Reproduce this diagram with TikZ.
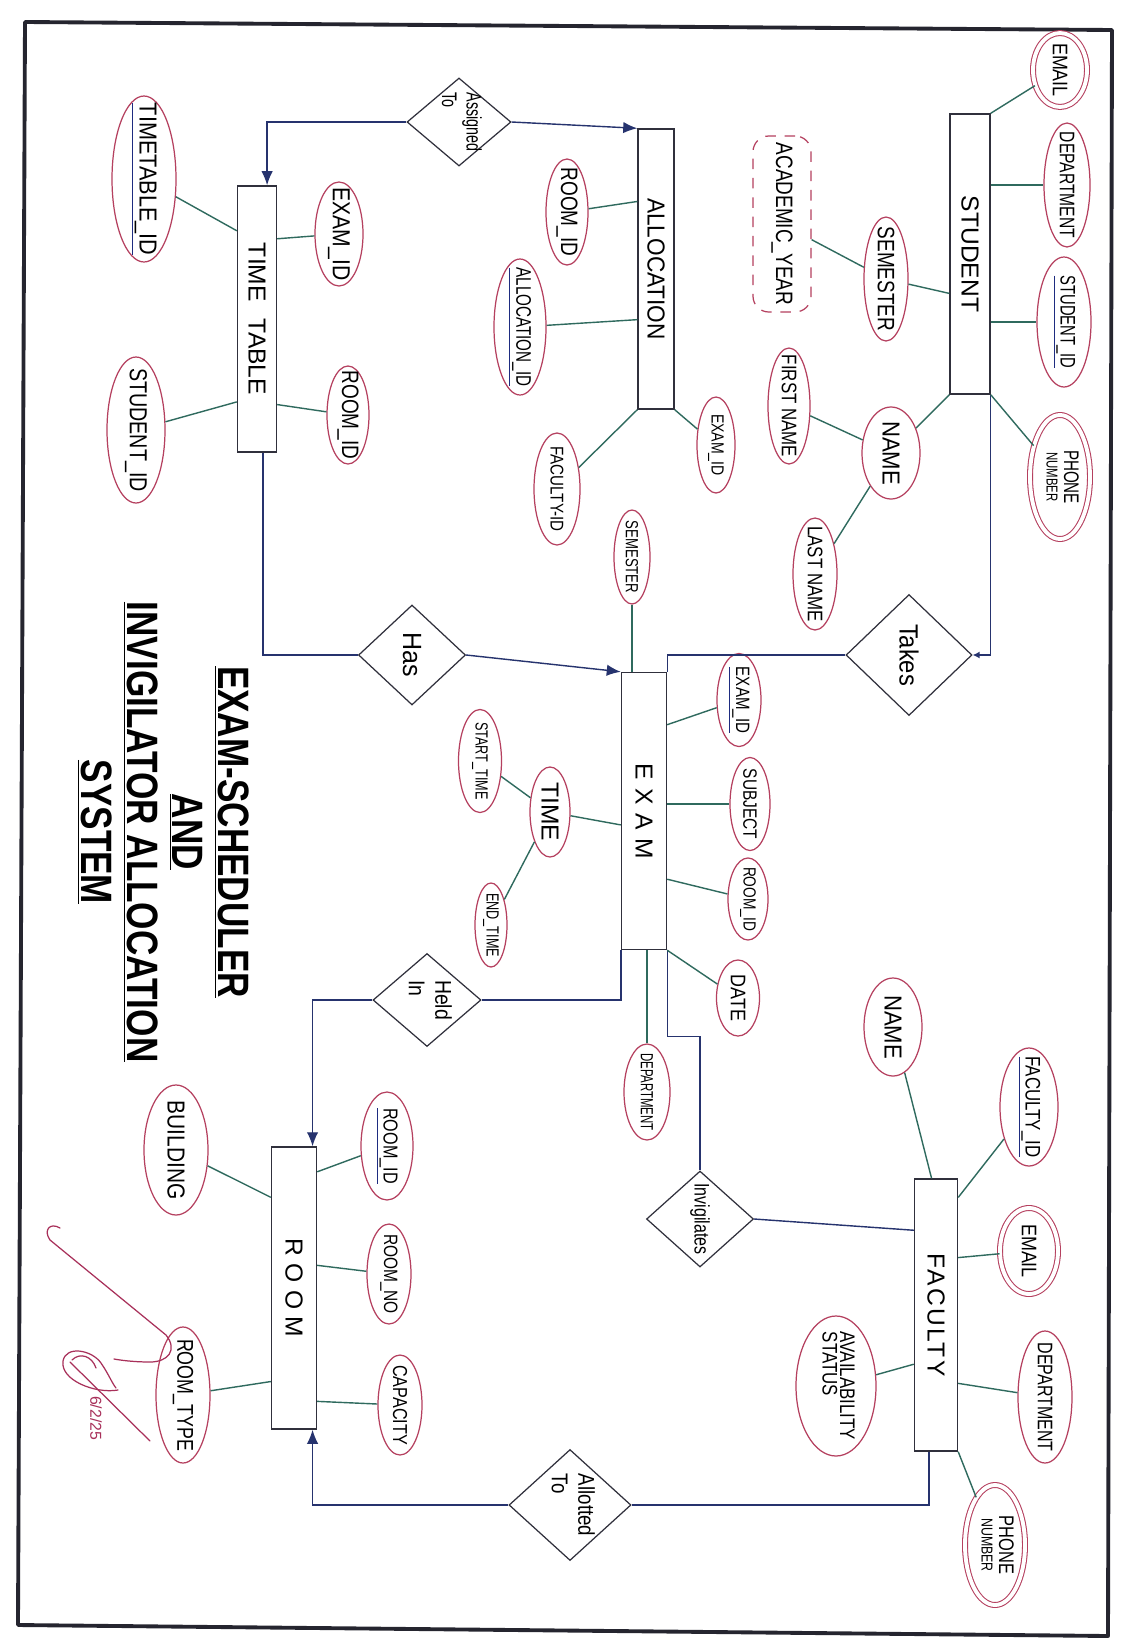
\documentclass[tikz,border=0pt]{standalone}
\usepackage{fontspec}
\setmainfont{Liberation Sans}
\usetikzlibrary{shapes.geometric,arrows.meta,calc}
\definecolor{entc}{HTML}{30303C}
\definecolor{relc}{HTML}{26336E}
\definecolor{linkc}{HTML}{2F6A5E}
\definecolor{ellc}{HTML}{B5405F}
\definecolor{keyc}{HTML}{1E2C80}
\definecolor{framec}{HTML}{25252F}
\definecolor{sigc}{HTML}{A8305A}
\newcommand{\rt}[2][0.78]{\rotatebox{-90}{\makebox[0pt]{\scalebox{#1}[1]{#2}}}}
\newcommand{\keyu}[1]{\textcolor{keyc}{\underline{\textcolor{black}{#1}}}}
\newcommand{\twol}[3][c]{\begin{tabular}{@{}#1@{}}#2\\[-3pt]#3\end{tabular}}
\newcommand{\twod}[2]{\begin{tabular}{@{}l@{}}#1\\[1pt]#2\end{tabular}}
\tikzset{
  sz/.style 2 args={minimum width=#1*0.02cm, minimum height=#2*0.02cm},
  ent/.style={draw=entc, line width=0.8pt, inner sep=0pt, fill=white, font=\fontsize{14}{16}\selectfont},
  attr/.style={ellipse, draw=ellc, line width=0.7pt, inner sep=0pt, font=\fontsize{12}{13}\selectfont},
  multi/.style={attr, double=white, double distance=2.2pt, line width=0.6pt},
  derived/.style={draw=ellc, line width=0.7pt, dash pattern=on 6pt off 5pt, rounded corners=9pt, inner sep=0pt, font=\fontsize{12}{13}\selectfont},
  rel/.style={diamond, draw=entc, line width=0.7pt, inner sep=0pt, font=\fontsize{12}{13}\selectfont},
  al/.style={draw=linkc, line width=0.8pt},
  rl/.style={draw=relc, line width=0.8pt},
  titletext/.style={inner sep=0pt, font=\fontsize{25}{26}\selectfont\bfseries},
  pageframe/.style={draw=framec, line width=2.2pt, line join=round},
  sig/.style={draw=sigc, line width=0.7pt, line cap=round},
}
\begin{document}
\begin{tikzpicture}[x=0.02cm, y=-0.02cm, >={Latex[length=8pt,width=6.5pt]}]
\useasboundingbox (0,0) rectangle (1125,1650);
\fill[white] (0,0) rectangle (1125,1650);
\draw[pageframe] (25,22) -- (1112,30) -- (1108,1636) -- (18,1625) -- cycle;

% ---------- entities
\node[ent, sz={40}{280}] (student) at (970,254) {\rt[1]{STUDENT}};
\node[ent, sz={36}{280}] (alloc) at (656,269) {\rt[0.92]{ALLOCATION}};
\node[ent, sz={39}{266}] (timetable) at (257,319) {\rt[1]{TIME\hspace{0.7em}TABLE}};
\node[ent, sz={45}{277}] (exam) at (644,811) {\rt[1]{\addfontfeatures{LetterSpace=35}EXAM}};
\node[ent, sz={45}{282}] (room) at (294,1288) {\rt[1]{\addfontfeatures{LetterSpace=30}ROOM}};
\node[ent, sz={43}{272}] (faculty) at (936,1315) {\rt[1]{\addfontfeatures{LetterSpace=10}FACULTY}};

% ---------- relationships
\node[rel, sz={104}{88}] (assigned) at (459,122) {\rt[0.68]{\twod{Assigned}{To}}};
\node[rel, sz={107}{100}, font=\fontsize{15}{16}\selectfont] (has) at (412,655) {\rt[0.95]{Has}};
\node[rel, sz={126}{121}, font=\fontsize{15}{16}\selectfont] (takes) at (909,655) {\rt[0.9]{Takes}};
\node[rel, sz={108}{93}, font=\fontsize{13}{14}\selectfont] (held) at (427,1000) {\rt[0.85]{\twod{Held}{In}}};
\node[rel, sz={107}{96}] (invig) at (700,1219) {\rt[0.76]{Invigilates}};
\node[rel, sz={122}{111}, font=\fontsize{13}{14}\selectfont] (allot) at (570,1505) {\rt[0.82]{\twod{Allotted}{To}}};

% ---------- student attributes
\node[multi, sz={54}{74}] (s_email) at (1060,70) {\rt[0.85]{EMAIL}};
\node[attr, sz={46}{124}] (s_dept) at (1067,185) {\rt[0.74]{DEPARTMENT}};
\node[attr, sz={54}{130}] (s_id) at (1064,322) {\rt[0.7]{\keyu{STUDENT\_ID}}};
\node[multi, sz={60}{124}] (s_phone) at (1060,477) {\rt[0.72]{\twol{PHONE}{\small NUMBER}}};
\node[attr, sz={44}{124}, font=\fontsize{13.5}{14}\selectfont] (s_sem) at (886,279) {\rt[0.8]{SEMESTER}};
\node[derived, sz={58}{176}, font=\fontsize{13.5}{14}\selectfont] (s_acad) at (782,224) {\rt[0.8]{ACADEMIC\_YEAR}};
\node[attr, sz={58}{92}, font=\fontsize{14}{15}\selectfont] (s_name) at (891,453) {\rt[0.9]{NAME}};
\node[attr, sz={42}{116}] (s_first) at (789,406) {\rt[0.8]{FIRST NAME}};
\node[attr, sz={44}{112}] (s_last) at (815,574) {\rt[0.8]{LAST NAME}};

% ---------- allocation attributes
\node[attr, sz={42}{106}, font=\fontsize{13.5}{14}\selectfont] (a_room) at (567,212) {\rt[0.8]{ROOM\_ID}};
\node[attr, sz={52}{136}] (a_id) at (520,327) {\rt[0.72]{\keyu{ALLOCATION\_ID}}};
\node[attr, sz={38}{96}, font=\fontsize{10}{11}\selectfont] (a_exam) at (716,445) {\rt[0.8]{EXAM\_ID}};
\node[attr, sz={46}{112}, font=\fontsize{10.5}{11}\selectfont] (a_fac) at (557,489) {\rt[0.82]{FACULTY-ID}};

% ---------- time table attributes
\node[attr, sz={64}{166}, font=\fontsize{14}{15}\selectfont] (t_id) at (144,179) {\rt[0.88]{\keyu{TIMETABLE\_ID}}};
\node[attr, sz={48}{104}, font=\fontsize{14}{15}\selectfont] (t_exam) at (339,234) {\rt[0.86]{EXAM\_ID}};
\node[attr, sz={42}{98}, font=\fontsize{13.5}{14}\selectfont] (t_room) at (348,415) {\rt[0.8]{ROOM\_ID}};
\node[attr, sz={58}{146}, font=\fontsize{14}{15}\selectfont] (t_stu) at (136,430) {\rt[0.8]{STUDENT\_ID}};

% ---------- exam attributes
\node[attr, sz={36}{94}, font=\fontsize{10}{11}\selectfont] (e_sem) at (632,557) {\rt[0.75]{SEMESTER}};
\node[attr, sz={44}{93}, font=\fontsize{11}{12}\selectfont] (e_id) at (739,700) {\rt[0.78]{\keyu{EXAM\_ID}}};
\node[attr, sz={40}{93}, font=\fontsize{11}{12}\selectfont] (e_subj) at (750,804) {\rt[0.8]{SUBJECT}};
\node[attr, sz={40}{82}, font=\fontsize{10}{11}\selectfont] (e_room) at (748,899) {\rt[0.78]{ROOM\_ID}};
\node[attr, sz={43}{76}, font=\fontsize{12}{13}\selectfont] (e_date) at (738,998) {\rt[0.85]{DATE}};
\node[attr, sz={46}{96}, font=\fontsize{10}{11}\selectfont] (e_dept) at (647,1092) {\rt[0.65]{DEPARTMENT}};
\node[attr, sz={40}{90}, font=\fontsize{14}{15}\selectfont] (e_time) at (550,812) {\rt[1]{TIME}};
\node[attr, sz={43}{103}, font=\fontsize{10}{11}\selectfont] (e_start) at (480,761) {\rt[0.72]{START\_TIME}};
\node[attr, sz={32}{84}, font=\fontsize{10}{11}\selectfont] (e_end) at (491,925) {\rt[0.72]{END\_TIME}};

% ---------- room attributes
\node[attr, sz={64}{130}, font=\fontsize{14}{15}\selectfont] (r_bld) at (176,1150) {\rt[0.85]{BUILDING}};
\node[attr, sz={52}{108}, font=\fontsize{11.5}{12}\selectfont] (r_id) at (387,1146) {\rt[0.8]{\keyu{ROOM\_ID}}};
\node[attr, sz={44}{100}, font=\fontsize{11}{12}\selectfont] (r_no) at (389,1274) {\rt[0.8]{ROOM\_NO}};
\node[attr, sz={44}{100}, font=\fontsize{11.5}{12}\selectfont] (r_cap) at (400,1405) {\rt[0.8]{CAPACITY}};
\node[attr, sz={54}{136}, font=\fontsize{13}{14}\selectfont] (r_type) at (183,1395) {\rt[0.78]{ROOM\_TYPE}};

% ---------- faculty attributes
\node[attr, sz={58}{98}, font=\fontsize{14}{15}\selectfont] (f_name) at (893,1027) {\rt[0.9]{NAME}};
\node[attr, sz={58}{118}] (f_id) at (1029,1107) {\rt[0.8]{\keyu{FACULTY\_ID}}};
\node[multi, sz={58}{86}] (f_email) at (1029,1251) {\rt[0.85]{EMAIL}};
\node[attr, sz={54}{132}] (f_dept) at (1045,1397) {\rt[0.76]{DEPARTMENT}};
\node[multi, sz={60}{120}] (f_phone) at (995,1545) {\rt[0.78]{\twol{PHONE}{\small NUMBER}}};
\node[attr, sz={80}{140}] (f_avail) at (836,1386) {\rt[0.8]{\twol[l]{AVAILABILITY}{STATUS}}};

% ---------- title
\node[titletext] (title) at (159,832) {\rotatebox{-90}{\makebox[0pt]{\scalebox{0.8}[1]{\begin{tabular}{c}\underline{EXAM-SCHEDULER}\\ \underline{AND}\\ \underline{INVIGILATOR ALLOCATION}\\ \underline{SYSTEM}\end{tabular}}}}};

% ---------- relationship connectors
\draw[rl,->] (assigned.west) -| ($(timetable.north)!0.5!(timetable.north east)$);
\draw[rl,->] (assigned.east) -- (alloc.north west);
\draw[rl] ($(timetable.south)!0.3!(timetable.south east)$) |- (has.west);
\draw[rl,->] (has.east) -- (exam.north west);
\draw[rl,-{Latex[length=4pt,width=4pt]}] (student.south east) |- (takes.east);
\draw[rl] (takes.west) -| (exam.north east);
\draw[rl] (exam.south west) |- (held.east);
\draw[rl,->] (held.west) -| ($(room.north west)!0.9!(room.north east)$);
\draw[rl] (exam.south east) -- ++(0,86) -| (invig.north);
\draw[rl] (invig.east) -- ($(faculty.north west)!0.19!(faculty.south west)$);
\draw[rl,->] (allot.west) -| ($(room.south west)!0.9!(room.south east)$);
\draw[rl] (allot.east) -| ($(faculty.south west)!0.34!(faculty.south east)$);

% ---------- attribute connectors
\draw[al] (student.north east) -- (s_email);
\draw[al] (student.east |- s_dept) -- (s_dept);
\draw[al] (student.east |- s_id) -- (s_id);
\draw[al] (student.south east) -- (s_phone);
\draw[al] (s_sem) -- ($(student.north west)!0.64!(student.south west)$);
\draw[al] (s_acad) -- (s_sem);
\draw[al] (student.south west) -- (s_name);
\draw[al] (s_first) -- (s_name);
\draw[al] (s_name) -- (s_last);

\draw[al] ($(alloc.north west)!0.26!(alloc.south west)$) -- (a_room);
\draw[al] ($(alloc.north west)!0.68!(alloc.south west)$) -- (a_id);
\draw[al] (alloc.south east) -- (a_exam);
\draw[al] (alloc.south west) -- (a_fac);

\draw[al] (t_id) -- ($(timetable.north west)!0.17!(timetable.south west)$);
\draw[al] ($(timetable.north east)!0.2!(timetable.south east)$) -- (t_exam);
\draw[al] ($(timetable.north east)!0.82!(timetable.south east)$) -- (t_room);
\draw[al] (t_stu) -- ($(timetable.north west)!0.81!(timetable.south west)$);

\draw[al] (e_sem) -- (e_sem |- exam.north);
\draw[al] ($(exam.north east)!0.19!(exam.south east)$) -- (e_id);
\draw[al] (exam.east |- e_subj) -- (e_subj);
\draw[al] ($(exam.north east)!0.745!(exam.south east)$) -- (e_room);
\draw[al] (exam.south east) -- (e_date);
\draw[al] (e_dept |- exam.south) -- (e_dept);
\draw[al] (e_time) -- ($(exam.north west)!0.55!(exam.south west)$);
\draw[al] (e_start) -- (e_time);
\draw[al] (e_time) -- (e_end);

\draw[al] (r_bld) -- ($(room.north west)!0.18!(room.south west)$);
\draw[al] ($(room.north east)!0.09!(room.south east)$) -- (r_id);
\draw[al] ($(room.north east)!0.42!(room.south east)$) -- (r_no);
\draw[al] ($(room.north east)!0.9!(room.south east)$) -- (r_cap);
\draw[al] (r_type) -- ($(room.north west)!0.83!(room.south west)$);

\draw[al] (f_name) -- ($(faculty.north west)!0.4!(faculty.north east)$);
\draw[al] ($(faculty.north east)!0.07!(faculty.south east)$) -- (f_id);
\draw[al] ($(faculty.north east)!0.29!(faculty.south east)$) -- (f_email);
\draw[al] ($(faculty.north east)!0.75!(faculty.south east)$) -- (f_dept);
\draw[al] (faculty.south east) -- (f_phone);
\draw[al] ($(faculty.north west)!0.68!(faculty.south west)$) -- (f_avail);

% ---------- signature
\draw[sig] (60,1228) .. controls (50,1222) and (43,1230) .. (50,1240) -- (166,1335) .. controls (178,1350) and (168,1362) .. (150,1362) .. controls (138,1362) and (125,1361) .. (114,1359);
\draw[sig] (118,1390) .. controls (95,1394) and (60,1380) .. (63,1361) .. controls (66,1345) and (92,1350) .. (101,1363) .. controls (108,1373) and (112,1383) .. (116,1388);
\draw[sig] (72,1360) .. controls (80,1352) and (92,1356) .. (96,1368);
\draw[sig] (70,1362) -- (150,1441);
\node[text=sigc, font=\fontsize{9}{10}\selectfont, rotate=-90, inner sep=0pt] (sigdate) at (96,1418) {6/2/25};
\end{tikzpicture}
\end{document}
